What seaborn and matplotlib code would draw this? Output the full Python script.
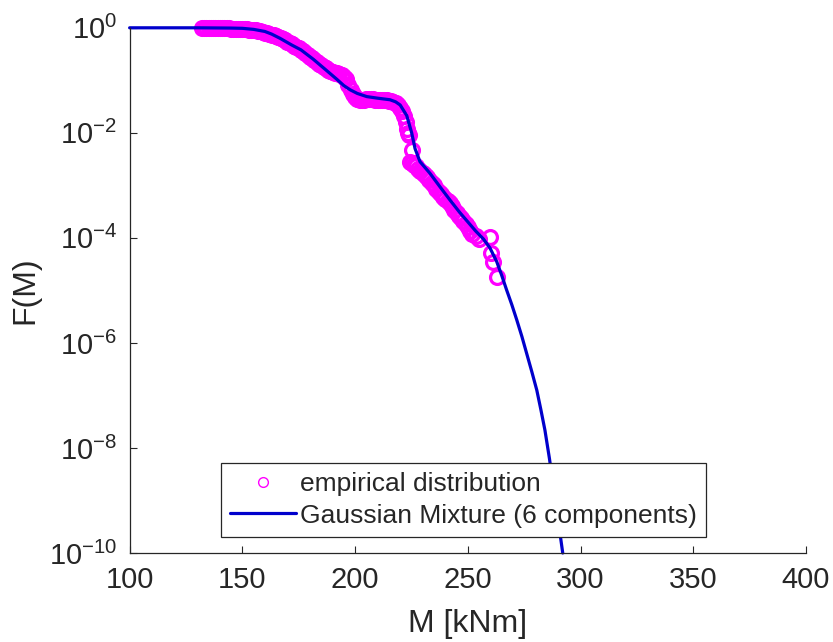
import numpy as np
import matplotlib
matplotlib.use("Agg")
import matplotlib.pyplot as plt
import seaborn as sns

# empirical exceedance points (M in kNm, log10 of F)
emp_M = [132, 133, 134, 135, 136, 137, 138, 139, 140, 141, 142, 143, 144, 145,
         146, 147, 148, 149, 150, 151, 152, 153, 154, 155, 156, 157, 158, 159,
         160, 161, 162, 163, 164, 165, 166, 167, 168, 169, 170, 171, 172, 173,
         174, 175, 176, 177, 178, 179, 180, 181, 182, 183, 184, 185, 186, 187,
         188, 189, 190, 191, 192, 193, 194, 195, 196, 197, 198, 199, 200, 201,
         202, 203, 204, 205, 206, 207, 208, 209, 210, 211, 212, 213, 214, 215,
         216, 217, 218, 219, 220, 221, 221.8, 222.5, 223, 223.5, 224, 225.1,
         224.4, 225.2, 226, 227, 228, 229, 230, 231, 232, 233, 234, 235, 236,
         237, 238, 239, 240, 241, 242, 243, 244, 245, 246, 247, 248, 249, 250,
         251, 252, 253.5, 255, 259.8, 260.5, 261.0, 262.8]
emp_log10F = [-0.01, -0.01, -0.01, -0.01, -0.01, -0.01, -0.01, -0.01, -0.01,
              -0.01, -0.01, -0.01, -0.01, -0.015, -0.02, -0.02, -0.02, -0.02,
              -0.025, -0.03, -0.03, -0.035, -0.04, -0.045, -0.05, -0.06, -0.07,
              -0.08, -0.09, -0.10, -0.11, -0.13, -0.14, -0.16, -0.18, -0.20,
              -0.22, -0.24, -0.27, -0.29, -0.31, -0.34, -0.37, -0.39, -0.42,
              -0.45, -0.48, -0.51, -0.55, -0.58, -0.62, -0.65, -0.68, -0.71,
              -0.74, -0.77, -0.80, -0.82, -0.84, -0.86, -0.87, -0.88, -0.90,
              -0.93, -0.98, -1.08, -1.18, -1.26, -1.32, -1.36, -1.38, -1.38,
              -1.37, -1.36, -1.36, -1.36, -1.36, -1.37, -1.37, -1.37, -1.38,
              -1.38, -1.38, -1.39, -1.40, -1.42, -1.44, -1.47, -1.52, -1.58,
              -1.68, -1.80, -1.92, -2.00, -2.05, -2.33, -2.55, -2.58, -2.61,
              -2.64, -2.68, -2.72, -2.76, -2.80, -2.85, -2.90, -2.95, -3.00,
              -3.06, -3.12, -3.17, -3.22, -3.26, -3.30, -3.34, -3.40, -3.46,
              -3.53, -3.58, -3.63, -3.68, -3.74, -3.80, -3.86, -3.92, -3.97,
              -4.02, -3.98, -4.29, -4.45, -4.74]

# gaussian mixture fit (6 components)
gm_M = [100, 130, 145, 150, 155, 160, 163, 166.7, 172, 176, 181.5, 187, 191.9,
        195, 197.8, 201, 205.2, 210, 215.5, 218, 220, 222.9, 225.1, 226.6,
        228.8, 233.2, 237.7, 242.1, 246.5, 250.9, 253.5, 256.9, 259.8, 262.8,
        265, 267.2, 269.5, 271.7, 274, 276.1, 278.4, 280.6, 282.4, 284.2,
        286.2, 289, 292.1]
gm_log10F = [0, 0, -0.005, -0.01, -0.03, -0.07, -0.12, -0.20, -0.33, -0.42,
             -0.60, -0.80, -0.98, -1.10, -1.18, -1.25, -1.31, -1.34, -1.37,
             -1.41, -1.47, -1.67, -2.00, -2.30, -2.55, -2.77, -3.03, -3.28,
             -3.52, -3.74, -3.87, -4.02, -4.19, -4.45, -4.71, -4.99, -5.27,
             -5.56, -5.88, -6.20, -6.55, -6.90, -7.27, -7.66, -8.20, -9.05,
             -10.0]

emp_F = 10.0 ** np.array(emp_log10F)
gm_F = 10.0 ** np.array(gm_log10F)

sns.set_style("ticks")
plt.rcParams['font.family'] = ['Liberation Sans', 'DejaVu Sans']
plt.rcParams['mathtext.fontset'] = 'custom'
plt.rcParams['mathtext.rm'] = 'Liberation Sans'
plt.rcParams['text.color'] = '#262626'

fig = plt.figure(figsize=(8.33, 6.42), dpi=100)
ax = fig.add_axes([0.1556, 0.1386, 0.812, 0.8181])

sns.lineplot(x=emp_M, y=emp_F, ax=ax, linestyle='none', marker='o',
             markersize=10, markerfacecolor='none', markeredgecolor='#ff00ff',
             markeredgewidth=2.3, estimator=None, sort=False,
             label='empirical distribution', clip_on=False)
sns.lineplot(x=gm_M, y=gm_F, ax=ax, color='#0000cc', linewidth=2.3,
             estimator=None, sort=False,
             label='Gaussian Mixture (6 components)', clip_on=False)

ax.set_yscale('log')
ax.set_xlim(100, 400)
ax.set_ylim(1e-10, 1)
ax.set_xticks([100, 150, 200, 250, 300, 350, 400])
ax.set_yticks([1e-10, 1e-8, 1e-6, 1e-4, 1e-2, 1])
ax.yaxis.set_minor_locator(matplotlib.ticker.NullLocator())
ax.tick_params(direction='in', length=5, width=0.8, labelsize=21,
               colors='#262626', pad=9)
sns.despine(ax=ax)
for s in ['left', 'bottom']:
    ax.spines[s].set_color('#262626')
    ax.spines[s].set_linewidth(0.9)

ax.set_xlabel('M [kNm]', fontsize=23, color='#262626', labelpad=11)
ax.set_ylabel('F(M)', fontsize=23, color='#262626', labelpad=6)

leg = ax.legend(loc='lower left', bbox_to_anchor=(0.2653, 0.1636),
                bbox_transform=fig.transFigure, borderaxespad=0,
                fontsize=19, frameon=True, fancybox=False, framealpha=1,
                edgecolor='#262626', handlelength=2.5, handletextpad=0.15,
                borderpad=0.35, labelspacing=0.3)
leg.get_frame().set_linewidth(0.9)
# legend marker is drawn smaller and thinner in the reference
leg.legend_handles[0].set_markersize(7)
leg.legend_handles[0].set_markeredgewidth(1.0)

fig.savefig('out.png', dpi=100)
